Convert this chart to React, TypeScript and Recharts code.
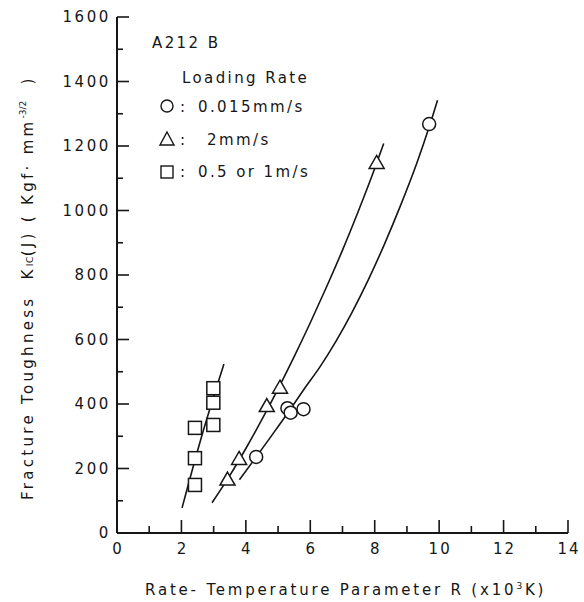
import { ComposedChart, XAxis, YAxis, Scatter, Line, Customized } from 'recharts';

const ink = '#161616';
const font = '"DejaVu Sans", sans-serif';

// plot frame edges (axis lines)
const AXIS_X = 117;
const AXIS_Y = 533;

const xTicks = [0, 1, 2, 3, 4, 5, 6, 7, 8, 9, 10, 11, 12, 13, 14];
const yTicks = [0, 100, 200, 300, 400, 500, 600, 700, 800, 900, 1000, 1100, 1200, 1300, 1400, 1500, 1600];

// measured K_IC(J) values, one list per loading rate
const slowRate = [
  { x: 4.32, y: 236 },
  { x: 5.29, y: 387 },
  { x: 5.39, y: 373 },
  { x: 5.79, y: 384 },
  { x: 9.69, y: 1268 },
];
const midRate = [
  { x: 3.43, y: 164 },
  { x: 3.79, y: 228 },
  { x: 4.65, y: 392 },
  { x: 5.06, y: 449 },
  { x: 8.06, y: 1146 },
];
const fastRate = [
  { x: 2.42, y: 149 },
  { x: 2.42, y: 232 },
  { x: 2.42, y: 326 },
  { x: 2.99, y: 335 },
  { x: 2.99, y: 404 },
  { x: 2.99, y: 449 },
];

// hand-drawn trend curves through each group
const slowCurve = [
  { x: 3.8, y: 165 },
  { x: 4.3, y: 233 },
  { x: 4.8, y: 302 },
  { x: 5.3, y: 372 },
  { x: 5.8, y: 445 },
  { x: 6.3, y: 515 },
  { x: 6.8, y: 595 },
  { x: 7.3, y: 685 },
  { x: 7.8, y: 785 },
  { x: 8.3, y: 895 },
  { x: 8.8, y: 1015 },
  { x: 9.3, y: 1145 },
  { x: 9.7, y: 1262 },
  { x: 9.95, y: 1342 },
];
const midCurve = [
  { x: 2.95, y: 94 },
  { x: 3.5, y: 178 },
  { x: 4.0, y: 262 },
  { x: 4.5, y: 352 },
  { x: 5.0, y: 447 },
  { x: 5.5, y: 547 },
  { x: 6.0, y: 652 },
  { x: 6.5, y: 762 },
  { x: 7.0, y: 877 },
  { x: 7.5, y: 1000 },
  { x: 8.0, y: 1130 },
  { x: 8.28, y: 1208 },
];
const fastCurve = [
  { x: 2.02, y: 78 },
  { x: 2.6, y: 290 },
  { x: 3.32, y: 524 },
];

function XTick({ x, payload }: any) {
  const v = payload.value;
  const major = v % 2 === 0;
  return (
    <g>
      <line x1={x} x2={x} y1={AXIS_Y} y2={AXIS_Y - (major ? 13 : 7)} stroke={ink} strokeWidth={1.6} />
      {major && (
        <text x={x + 1} y={AXIS_Y + 21} textAnchor="middle" fontFamily={font} fontSize={15} letterSpacing={2} fill={ink}>
          {v}
        </text>
      )}
    </g>
  );
}

function YTick({ y, payload }: any) {
  const v = payload.value;
  const major = v % 200 === 0;
  return (
    <g>
      <line x1={AXIS_X} x2={AXIS_X + (major ? 12 : 6)} y1={y} y2={y} stroke={ink} strokeWidth={1.6} />
      {major && (
        <text x={AXIS_X - 6} y={y + 5} textAnchor="end" fontFamily={font} fontSize={15} letterSpacing={2.6} fill={ink}>
          {v}
        </text>
      )}
    </g>
  );
}

const Circle = ({ cx, cy }: any) => <circle cx={cx} cy={cy} r={6.5} fill="#fff" stroke={ink} strokeWidth={1.5} />;
const Triangle = ({ cx, cy }: any) => (
  <path d={`M${cx},${cy - 8} L${cx + 7.5},${cy + 5} L${cx - 7.5},${cy + 5} Z`} fill="#fff" stroke={ink} strokeWidth={1.5} />
);
const Square = ({ cx, cy }: any) => (
  <rect x={cx - 6.5} y={cy - 6.5} width={13} height={13} fill="#fff" stroke={ink} strokeWidth={1.5} />
);

function Annotations() {
  const t = { fontFamily: font, fontSize: 15, letterSpacing: 2.4, fill: ink };
  return (
    <g>
      <text x={152} y={48} {...t}>A212 B</text>
      <text x={182} y={83} {...t}>Loading Rate</text>
      <circle cx={167} cy={106} r={6} fill="#fff" stroke={ink} strokeWidth={1.4} />
      <text x={180} y={112} {...t}>:</text>
      <text x={198} y={112} {...t}>0.015mm/s</text>
      <path d="M167,132 L174,145 L160,145 Z" fill="#fff" stroke={ink} strokeWidth={1.4} />
      <text x={180} y={145} {...t}>:</text>
      <text x={207} y={145} {...t}>2mm/s</text>
      <rect x={161} y={166} width={12} height={12} fill="#fff" stroke={ink} strokeWidth={1.4} />
      <text x={180} y={177} {...t}>:</text>
      <text x={198} y={177} {...t}>0.5 or 1m/s</text>

      <text x={145} y={595} {...t} letterSpacing={2.8}>
        Rate- Temperature  Parameter   R  (x10
        <tspan dy={-6} fontSize={9}>3</tspan>
        <tspan dy={6}>K)</tspan>
      </text>

      <g transform="translate(33,500) rotate(-90)">
        <text x={0} y={0} {...t} letterSpacing={3.3}>
          {'Fracture Toughness\u00a0\u00a0K'}
          <tspan fontSize={9} letterSpacing={0.5}>IC</tspan>
          {'(J) ( Kgf· mm'}
          <tspan dy={-7} fontSize={9} letterSpacing={0}>-3/2</tspan>
          <tspan dy={7}>{'\u00a0\u00a0)'}</tspan>
        </text>
      </g>
    </g>
  );
}

export default function App() {
  return (
    <div style={{ position: 'absolute', left: 0, top: 0, background: '#fff' }}>
      <ComposedChart width={584} height={602} margin={{ top: 17, right: 16, bottom: 0, left: 0 }}>
        <XAxis
          dataKey="x"
          type="number"
          domain={[0, 14]}
          ticks={xTicks}
          interval={0}
          height={69}
          tickSize={0}
          tickMargin={0}
          tick={<XTick />}
          axisLine={{ stroke: ink, strokeWidth: 2 }}
          allowDataOverflow
        />
        <YAxis
          dataKey="y"
          type="number"
          domain={[0, 1600]}
          ticks={yTicks}
          interval={0}
          width={117}
          tickSize={0}
          tickMargin={0}
          tick={<YTick />}
          axisLine={{ stroke: ink, strokeWidth: 2 }}
          allowDataOverflow
        />
        <Line data={slowCurve} dataKey="y" type="monotone" stroke={ink} strokeWidth={1.6} dot={false} activeDot={false} isAnimationActive={false} />
        <Line data={midCurve} dataKey="y" type="monotone" stroke={ink} strokeWidth={1.6} dot={false} activeDot={false} isAnimationActive={false} />
        <Line data={fastCurve} dataKey="y" type="monotone" stroke={ink} strokeWidth={1.6} dot={false} activeDot={false} isAnimationActive={false} />
        <Scatter data={fastRate} shape={<Square />} isAnimationActive={false} />
        <Scatter data={midRate} shape={<Triangle />} isAnimationActive={false} />
        <Scatter data={slowRate} shape={<Circle />} isAnimationActive={false} />
        <Customized component={<Annotations />} />
      </ComposedChart>
    </div>
  );
}
